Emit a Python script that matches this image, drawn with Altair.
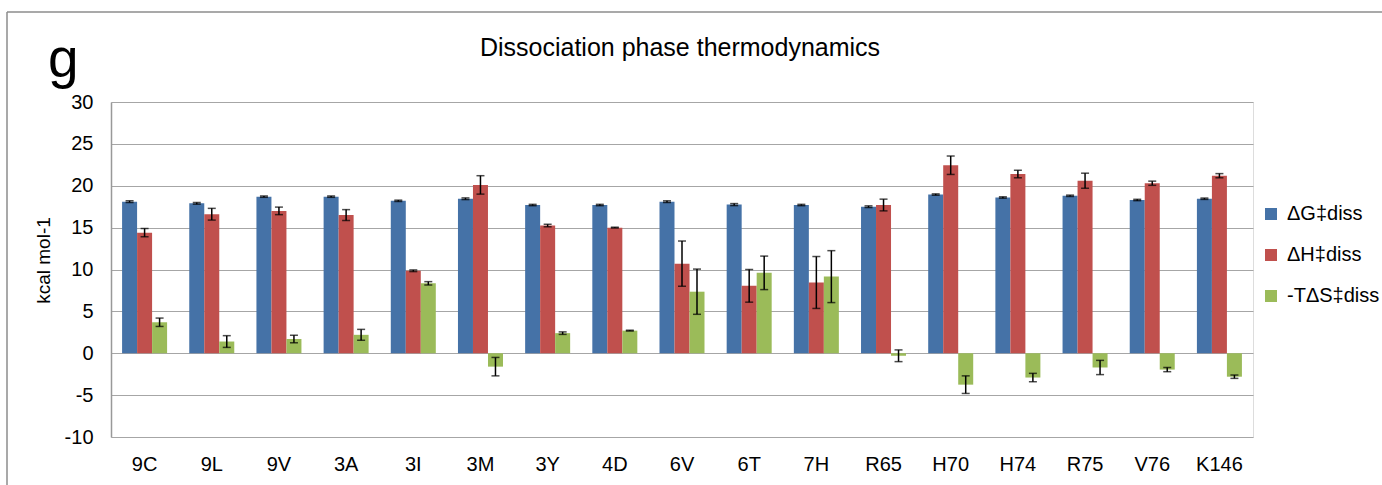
import altair as alt
import pandas as pd

categories = ["9C", "9L", "9V", "3A", "3I", "3M", "3Y", "4D", "6V", "6T", "7H",
              "R65", "H70", "H74", "R75", "V76", "K146"]
series_names = ["ΔG‡diss", "ΔH‡diss", "-TΔS‡diss"]
dG = [18.1, 17.9, 18.7, 18.7, 18.2, 18.45, 17.7, 17.7, 18.1, 17.75, 17.7,
      17.5, 18.95, 18.6, 18.8, 18.3, 18.45]
dG_err = [0.1, 0.1, 0.08, 0.08, 0.08, 0.1, 0.08, 0.08, 0.1, 0.12, 0.08,
          0.1, 0.08, 0.08, 0.08, 0.08, 0.08]
dH = [14.4, 16.6, 17.0, 16.5, 9.85, 20.1, 15.25, 15.0, 10.7, 8.05, 8.45,
      17.7, 22.45, 21.4, 20.6, 20.3, 21.2]
dH_err = [0.5, 0.7, 0.45, 0.65, 0.1, 1.1, 0.15, 0.05, 2.7, 1.95, 3.1,
          0.7, 1.1, 0.45, 0.9, 0.25, 0.25]
TdS = [3.7, 1.4, 1.7, 2.2, 8.35, -1.6, 2.4, 2.7, 7.35, 9.6, 9.15,
       -0.3, -3.75, -2.9, -1.7, -1.95, -2.8]
TdS_err = [0.5, 0.7, 0.45, 0.65, 0.2, 1.1, 0.15, 0.05, 2.7, 2.0, 3.1,
           0.7, 1.05, 0.5, 0.85, 0.25, 0.2]
colors = ["#4572A7", "#C0504D", "#9BBB59"]
y_ticks = [-10, -5, 0, 5, 10, 15, 20, 25, 30]

rows = []
for name, vals, errs in zip(series_names, [dG, dH, TdS], [dG_err, dH_err, TdS_err]):
    for c, v, e in zip(categories, vals, errs):
        rows.append({"cat": c, "series": name, "value": v, "lo": v - e, "hi": v + e})
df = pd.DataFrame(rows)

FONT = "Liberation Sans"
W, H = 1142, 335

x_enc = alt.X("cat:N", sort=categories, title=None,
              scale=alt.Scale(paddingInner=0.33, paddingOuter=0.165),
              axis=alt.Axis(labelFontSize=20, labelFont=FONT, labelColor="#000000",
                            labelAngle=0, ticks=False, domain=False, labelPadding=17))
xoff = alt.XOffset("series:N", sort=series_names, scale=alt.Scale(paddingInner=0, paddingOuter=0))
y_scale = alt.Scale(domain=[-10, 30], nice=False, zero=False)

bars = alt.Chart(df).mark_bar().encode(
    x=x_enc,
    xOffset=xoff,
    y=alt.Y("value:Q", scale=y_scale, title="kcal mol-1",
            axis=alt.Axis(values=y_ticks, labelFontSize=20, labelFont=FONT,
                          labelExpr="datum.value < 0 ? '-' + (-datum.value) : '' + datum.value",
                          labelColor="#000000", ticks=False, tickSize=0, labelPadding=18,
                          domainColor="#999999", domainWidth=1.5,
                          gridColor="#A6A6A6", gridWidth=1.2,
                          titleFont=FONT, titleFontSize=19, titleFontWeight="normal",
                          titleColor="#000000", titleAngle=270, titleX=-68, titleY=158,
                          titleAlign="center", titleBaseline="middle")),
    color=alt.Color("series:N", sort=series_names,
                    scale=alt.Scale(domain=series_names, range=colors),
                    legend=alt.Legend(title=None, orient="none", legendX=1150, legendY=102,
                                      symbolType="square", symbolSize=144,
                                      symbolStrokeWidth=0, labelFont=FONT,
                                      labelFontSize=20, labelColor="#000000",
                                      labelOffset=6, rowPadding=21)),
)

err = alt.Chart(df).mark_rule(color="#000000", strokeWidth=1.5).encode(
    x=alt.X("cat:N", sort=categories), xOffset=xoff,
    y=alt.Y("lo:Q", scale=y_scale), y2="hi:Q")
cap_lo = alt.Chart(df).mark_tick(color="#000000", size=8, thickness=1.5).encode(
    x=alt.X("cat:N", sort=categories), xOffset=xoff, y=alt.Y("lo:Q", scale=y_scale))
cap_hi = alt.Chart(df).mark_tick(color="#000000", size=8, thickness=1.5).encode(
    x=alt.X("cat:N", sort=categories), xOffset=xoff, y=alt.Y("hi:Q", scale=y_scale))

one = alt.Data(values=[{"t": "x"}])
title = alt.Chart(one).mark_text(text="Dissociation phase thermodynamics", font=FONT,
                                 fontSize=25, align="center", baseline="alphabetic",
                                 color="#000000").encode(
    x=alt.value(569), y=alt.value(-46))
panel = alt.Chart(one).mark_text(text="g", font=FONT, fontSize=55, align="left",
                                 baseline="alphabetic", color="#000000").encode(
    x=alt.value(-63), y=alt.value(-25))
frame_left = alt.Chart(one).mark_rule(color="#8C8C8C", strokeWidth=1.5).encode(
    x=alt.value(-104), y=alt.value(-90), y2=alt.value(400))
frame_top = alt.Chart(one).mark_rule(color="#8C8C8C", strokeWidth=1.5).encode(
    x=alt.value(-104), x2=alt.value(1280), y=alt.value(-90))

chart = alt.layer(bars, err, cap_lo, cap_hi, title, panel, frame_left, frame_top).properties(
    width=W, height=H,
    autosize="none",
    padding={"left": 111, "top": 102, "right": 129, "bottom": 48},
).configure_view(stroke=None).configure(background="#FFFFFF")

chart.save("out.html", embed_options={"renderer": "svg", "actions": False})
